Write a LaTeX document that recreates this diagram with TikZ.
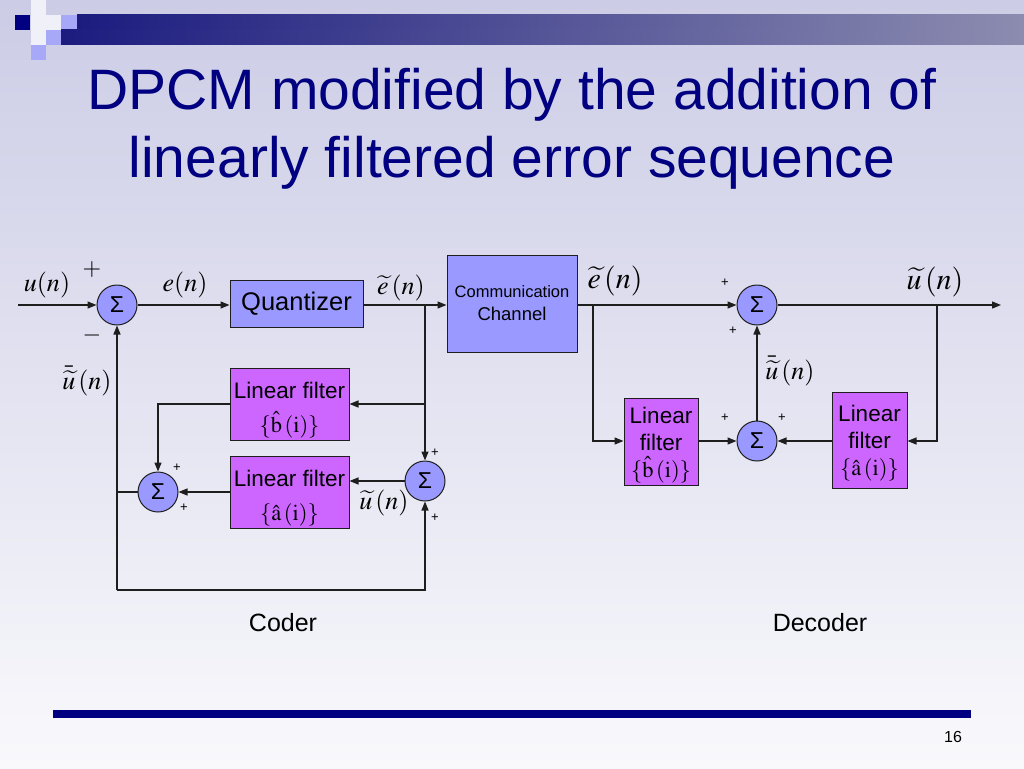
\documentclass[tikz,border=0pt]{standalone}
\usepackage{mathptmx}
\usepackage[no-math]{fontspec}
\setmainfont{Liberation Sans}
\usetikzlibrary{arrows.meta,shadings}
\definecolor{sig}{RGB}{153,153,255}
\definecolor{filt}{RGB}{204,102,255}
\definecolor{navy}{RGB}{0,0,128}
\definecolor{bgtop}{RGB}{204,204,230}
\definecolor{bgbot}{RGB}{249,249,252}
\definecolor{wirec}{RGB}{30,30,30}
\newcommand\fs[1]{\fontsize{#1}{#1}\selectfont}
\begin{document}
\begin{tikzpicture}[x=1pt,y=-1pt,
  sum/.style={circle, draw=wirec, fill=sig, minimum size=40pt, inner sep=0pt, line width=1pt, font=\fs{23}},
  blk/.style={draw=wirec, line width=1pt, fill=sig, inner sep=0pt, align=center},
  flt/.style={blk, fill=filt},
  wire/.style={line width=1.3pt, draw=wirec},
  arr/.style={wire, -{Triangle[length=9pt,width=7pt]}},
  lbl/.style={inner sep=0pt, font=\fs{26}},
  biglbl/.style={inner sep=0pt, font=\fs{30}},
  sml/.style={inner sep=0pt, font=\fs{13}},
  caplbl/.style={inner sep=0pt, font=\fs{25}}]
\useasboundingbox (0,0) rectangle (1024,768);
% background
\shade[top color=bgtop, bottom color=bgbot] (0,0) rectangle (1024,768);
% header decoration
\fill[white!70!bgtop] (31,0) rectangle (46,45);
\fill[white!70!bgtop] (46,15) rectangle (61,30);
\fill[navy] (15,15) rectangle (30,30);
\fill[sig!70!bgtop] (61,15) rectangle (77,30);
\fill[sig!70!bgtop] (46,30) rectangle (61,45);
\fill[sig!70!bgtop] (31,45) rectangle (46,60);
\shade[left color={rgb,255:red,28;green,28;blue,128}, right color={rgb,255:red,140;green,140;blue,176}] (77,15) rectangle (1024,30);
\shade[left color={rgb,255:red,28;green,28;blue,128}, right color={rgb,255:red,140;green,140;blue,176}] (61,30) rectangle (1024,45);
% title
\node[text=navy, font=\fontsize{57}{68}\selectfont, align=center, inner sep=0pt] (title) at (512,129)
  {DPCM modified by the addition of\\linearly filtered error sequence};
% ---------- coder ----------
\node[sum] (s1) at (117,305) {Σ};
\node[sum] (s2) at (158,492) {Σ};
\node[sum] (s3) at (425,481) {Σ};
\node[blk, minimum width=133pt, minimum height=47pt, font=\fs{25.5}] (quant) at (296.5,304) {Quantizer};
\node[flt, minimum width=119pt, minimum height=72pt, font=\fontsize{22.5}{34}\selectfont] (bf) at (289.5,404)
  {\rule{0pt}{28pt}Linear filter\\$\{\hat{\mathrm{b}}\,(\mathrm{i})\}$};
\node[flt, minimum width=119pt, minimum height=72pt, font=\fontsize{22.5}{34}\selectfont] (af) at (289.5,492)
  {\rule{0pt}{28pt}Linear filter\\$\{\hat{\mathrm{a}}\,(\mathrm{i})\}$};
\node[blk, minimum width=130pt, minimum height=97pt, font=\fontsize{17}{23}\selectfont] (chan) at (512,303.5)
  {{\fs{16.5}Communication}\\{\fs{18.5}Channel}};
\coordinate (in) at (18,305);
\coordinate (j1) at (425,305);
\coordinate (jl) at (117,492);
\coordinate (jb) at (117,590);
\draw[arr] (in) -- (s1);
\draw[arr] (s1) -- (quant.west |- s1);
\draw[arr] (quant.east |- s1) -- (chan.west |- s1);
\draw[arr] (j1) -- (s3.north);
\draw[arr] (j1 |- bf.east) -- (bf.east);
\draw[arr] (bf.west) -| (s2.north);
\draw[arr] (af.west |- s2) -- (s2.east);
\draw[arr] (s3.west) -- (af.east |- s3);
\draw[wire] (s2.west) -- (jl);
\draw[arr] (jb) -- (s1.south);
\draw[arr] (jb) -| (s3.south);
% coder labels
\node[lbl] (lu) at (47,285) {$u(n)$};
\node[lbl] (le) at (185,285) {$e(n)$};
\node[lbl] (let) at (401,288) {$\widetilde{e}\,(n)$};
\node[lbl] (lub) at (87,381) {$\bar{\widetilde{u}}\,(n)$};
\node[lbl] (lut) at (384,503) {$\widetilde{u}\,(n)$};
\node[inner sep=0pt, font=\fontsize{24}{24}\selectfont] (p1) at (92,270) {$+$};
\node[inner sep=0pt, font=\fontsize{24}{24}\selectfont] (m1) at (92,335) {$-$};
\node[sml] (p2) at (177,468) {+};
\node[sml] (p3) at (184,508) {+};
\node[sml] (p4) at (435,453) {+};
\node[sml] (p5) at (435,518) {+};
\node[caplbl] (coder) at (283,623) {Coder};
% ---------- decoder ----------
\node[sum] (s4) at (757,305) {Σ};
\node[sum] (s5) at (757,441) {Σ};
\node[flt, minimum width=74pt, minimum height=87pt, font=\fontsize{22.5}{27}\selectfont] (dbf) at (661,441.5)
  {\rule{0pt}{23pt}Linear\\filter\\$\{\hat{\mathrm{b}}\,(\mathrm{i})\}$};
\node[flt, minimum width=75pt, minimum height=96pt, font=\fontsize{22.5}{27}\selectfont] (daf) at (869.5,440)
  {\rule{0pt}{23pt}Linear\\filter\\$\{\hat{\mathrm{a}}\,(\mathrm{i})\}$};
\coordinate (j2) at (593,305);
\coordinate (j3) at (937,305);
\coordinate (out) at (1001,305);
\draw[arr] (chan.east |- s4) -- (s4.west);
\draw[arr] (j2) |- (dbf.west |- s5);
\draw[arr] (dbf.east |- s5) -- (s5.west);
\draw[arr] (s5.north) -- (s4.south);
\draw[arr] (s4.east) -- (out);
\draw[arr] (j3) |- (daf.east |- s5);
\draw[arr] (daf.west |- s5) -- (s5.east);
\node[biglbl] (let2) at (615,281) {$\widetilde{e}\,(n)$};
\node[biglbl] (lut2) at (935,282) {$\widetilde{u}\,(n)$};
\node[lbl] (lub2) at (790,371) {$\bar{\widetilde{u}}\,(n)$};
\node[sml] (p6) at (725,283) {+};
\node[sml] (p7) at (733,331) {+};
\node[sml] (p8) at (725,418) {+};
\node[sml] (p9) at (782,418) {+};
\node[caplbl] (decoder) at (820,623) {Decoder};
% footer
\fill[navy] (53,710) rectangle (971,718);
\node[inner sep=0pt, font=\fs{16}] (pg) at (953,737) {16};
\end{tikzpicture}
\end{document}
